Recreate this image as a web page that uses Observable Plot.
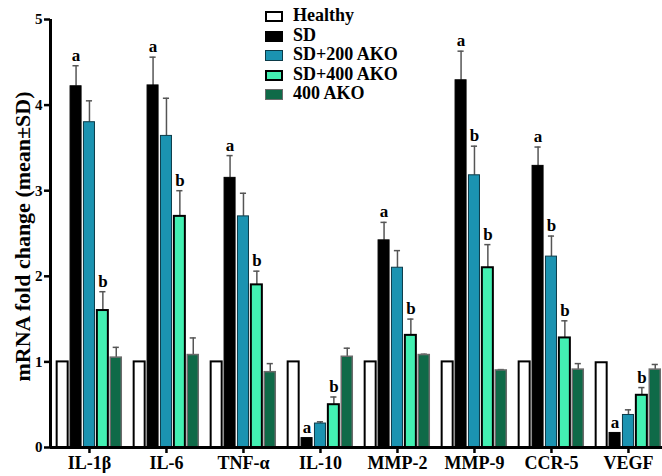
<!DOCTYPE html>
<html>
<head>
<meta charset="utf-8">
<script src="https://cdn.jsdelivr.net/npm/d3@7"></script>
<script src="https://cdn.jsdelivr.net/npm/@observablehq/plot@0.6"></script>
<style>
  body { margin: 0; background: white; }
  #wrap { position: relative; width: 662px; height: 476px; }
  #legend { position: absolute; left: 265px; top: 6px; font-family: "Liberation Serif", "Times New Roman", "DejaVu Serif", serif; font-weight: bold; font-size: 18px; color: #000; }
  .row { position: relative; height: 19.5px; line-height: 19.5px; padding-left: 28px; white-space: nowrap; }
  .sw { position: absolute; left: 0; top: 5px; width: 18px; height: 11px; box-sizing: border-box; }
</style>
</head>
<body>
<div id="wrap"><div id="chart"></div><div id="legend"></div></div>
<script>
const genes = ["IL-1β", "IL-6", "TNF-α", "IL-10", "MMP-2", "MMP-9", "CCR-5", "VEGF"];
const groups = ["Healthy", "SD", "SD+200 AKO", "SD+400 AKO", "400 AKO"];

const healthy = [1, 1, 1, 1, 1, 1, 1, 0.99];
const sdGroup = [4.22, 4.23, 3.15, 0.11, 2.42, 4.29, 3.29, 0.17];
const sd200 = [3.80, 3.64, 2.70, 0.28, 2.10, 3.18, 2.23, 0.38];
const sd400 = [1.60, 2.70, 1.90, 0.50, 1.31, 2.10, 1.28, 0.61];
const ako400 = [1.05, 1.08, 0.88, 1.06, 1.08, 0.90, 0.91, 0.91];

const healthyErr = [0, 0, 0, 0, 0, 0, 0, 0];
const sdGroupErr = [0.24, 0.33, 0.26, 0, 0.21, 0.34, 0.22, 0];
const sd200Err = [0.25, 0.44, 0.27, 0.02, 0.20, 0.34, 0.24, 0.06];
const sd400Err = [0.22, 0.30, 0.16, 0.09, 0.19, 0.27, 0.20, 0.09];
const ako400Err = [0.12, 0.20, 0.10, 0.10, 0.01, 0.01, 0.07, 0.06];

const healthyLetters = ["", "", "", "", "", "", "", ""];
const sdGroupLetters = ["a", "a", "a", "a", "a", "a", "a", "a"];
const sd200Letters = ["", "", "", "", "", "b", "b", ""];
const sd400Letters = ["b", "b", "b", "b", "b", "b", "b", "b"];
const ako400Letters = ["", "", "", "", "", "", "", ""];

const yTicks = [0, 1, 2, 3, 4, 5];
const yLabel = "mRNA fold change (mean±SD)";

// styles per group
const fills = ["#ffffff", "#000000", "#1b93b1", "#43f0b2", "#0f6a48"];
const strokes = ["#000000", "#000000", "#0b3a48", "#000000", "#6b6b6b"];
const strokeWidths = [2, 1, 1, 2, 1.5];
const serif = "'Liberation Serif', 'Times New Roman', 'DejaVu Serif', serif";

const means = [healthy, sdGroup, sd200, sd400, ako400];
const errs = [healthyErr, sdGroupErr, sd200Err, sd400Err, ako400Err];
const letters = [healthyLetters, sdGroupLetters, sd200Letters, sd400Letters, ako400Letters];

const pitch = 0.174, bw = 0.143, cap = 0.04;
const rows = [];
genes.forEach((g, gi) => groups.forEach((grp, k) => {
  const c = gi + (k - 2) * pitch;
  rows.push({gene: g, group: grp, k, c, x1: c - bw / 2, x2: c + bw / 2,
    mean: means[k][gi], sd: errs[k][gi], top: means[k][gi] + errs[k][gi], letter: letters[k][gi]});
}));
const errRows = rows.filter(d => d.sd > 0);
const letterRows = rows.filter(d => d.letter);

const xDomain = [-0.506, 7.442];

const marks = [
  Plot.ruleX(errRows, {x: "c", y1: "mean", y2: "top", stroke: "#555", strokeWidth: 1.5}),
  Plot.ruleY(errRows, {y: "top", x1: d => d.c - cap, x2: d => d.c + cap, stroke: "#555", strokeWidth: 1.5}),
];
groups.forEach((grp, k) => {
  marks.push(Plot.rect(rows.filter(d => d.k === k), {
    x1: "x1", x2: "x2", y1: 0, y2: "mean",
    fill: fills[k], stroke: strokes[k], strokeWidth: strokeWidths[k]
  }));
});
marks.push(
  Plot.text(letterRows, {x: "c", y: "top", text: "letter", dy: -5, lineAnchor: "bottom", fontSize: 17, fontWeight: "bold"}),
  Plot.axisY({ticks: yTicks, tickFormat: d => String(d), tickSize: 6, tickPadding: 2, fontSize: 15, fontWeight: "bold", strokeWidth: 2.5, label: null}),
  Plot.axisX({ticks: d3.range(genes.length), tickFormat: i => genes[i], tickSize: 6, tickPadding: 3, fontSize: 18, fontWeight: "bold", strokeWidth: 2.5, label: null}),
  Plot.ruleY([0], {strokeWidth: 3}),
  Plot.ruleX([xDomain[0]], {y1: 0, y2: 5, strokeWidth: 3}),
  Plot.text([yLabel], {frameAnchor: "left", textAnchor: "middle", rotate: -90, dx: -28, dy: 3, fontSize: 22, fontWeight: "bold"})
);

const chart = Plot.plot({
  width: 662,
  height: 476,
  marginLeft: 50,
  marginRight: 0,
  marginTop: 19,
  marginBottom: 29,
  style: {fontFamily: serif, color: "#000", background: "white", overflow: "visible"},
  x: {type: "linear", domain: xDomain},
  y: {domain: [0, 5]},
  marks
});
document.getElementById("chart").append(chart);

const legend = document.getElementById("legend");
groups.forEach((grp, k) => {
  const row = document.createElement("div");
  row.className = "row";
  const sw = document.createElement("span");
  sw.className = "sw";
  sw.style.background = fills[k];
  sw.style.border = `${Math.max(strokeWidths[k], 1.5)}px solid ${strokes[k]}`;
  row.append(sw, document.createTextNode(grp));
  legend.append(row);
});
</script>
</body>
</html>
